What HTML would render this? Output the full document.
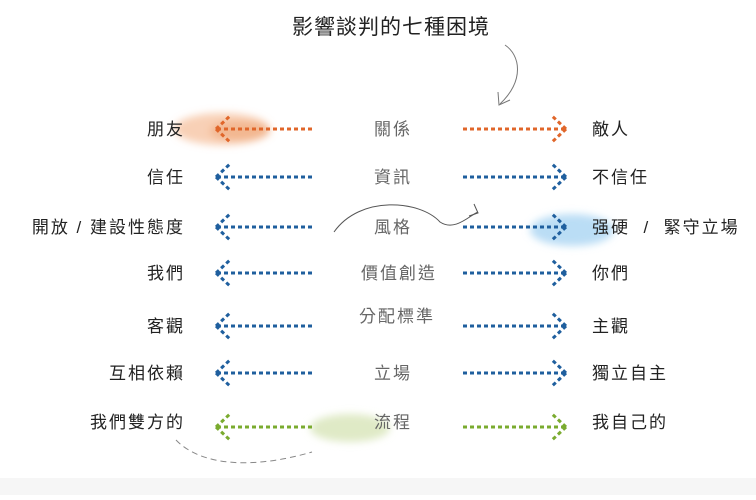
<!DOCTYPE html>
<html><head><meta charset="utf-8"><style>
html,body{margin:0;padding:0;background:#fff;}
svg text{font-family:"Liberation Sans","Noto Sans CJK TC",sans-serif;}
</style></head><body>
<svg width="756" height="495" viewBox="0 0 756 495" xmlns="http://www.w3.org/2000/svg">
<defs>
<filter id="b"><feGaussianBlur stdDeviation="4"/></filter>
</defs>
<rect x="0" y="478" width="756" height="17" fill="#f6f6f6"/>
<g filter="url(#b)">
<ellipse cx="222" cy="129" rx="48" ry="16" fill="#f2a97a" opacity="0.55"/>
<ellipse cx="240" cy="131" rx="30" ry="10" fill="#ec9a66" opacity="0.45"/>
<ellipse cx="572" cy="230" rx="42" ry="16" fill="#a9d4f2" opacity="0.8"/>
<ellipse cx="350" cy="428" rx="40" ry="14" fill="#dce8c0" opacity="0.9"/>
</g>
<text x="391" y="34" font-size="21" fill="#222" text-anchor="middle" letter-spacing="1">影響談判的七種困境</text>
<path d="M500 104 C 525 80, 520 55, 505 45" stroke="#777" fill="none" stroke-width="1"/>
<path d="M498 92 L499 105 L510 100" stroke="#777" fill="none" stroke-width="1"/>
<path d="M334 232 C 360 195, 420 200, 440 222 C 455 232, 470 215, 478 212" stroke="#555" fill="none" stroke-width="1"/>
<path d="M474 204 L478 213 L469 216" stroke="#555" fill="none" stroke-width="1"/>
<path d="M176 440 C 200 465, 250 470, 312 452" stroke="#888" fill="none" stroke-width="1" stroke-dasharray="6,4"/>
<g font-size="17" fill="#222" letter-spacing="2">
<text x="185" y="135" text-anchor="end">朋友</text>
<text x="185" y="183" text-anchor="end">信任</text>
<text x="185" y="233" text-anchor="end">開放 / 建設性態度</text>
<text x="185" y="279" text-anchor="end">我們</text>
<text x="185" y="332" text-anchor="end">客觀</text>
<text x="185" y="379" text-anchor="end">互相依賴</text>
<text x="185" y="428" text-anchor="end">我們雙方的</text>
<text x="592" y="135">敵人</text>
<text x="592" y="183">不信任</text>
<text x="592" y="233" xml:space="preserve">强硬  /  緊守立場</text>
<text x="592" y="279">你們</text>
<text x="592" y="332">主觀</text>
<text x="592" y="379">獨立自主</text>
<text x="592" y="428">我自己的</text>
</g>
<g font-size="17" fill="#666" text-anchor="middle" letter-spacing="2">
<text x="393" y="135">關係</text>
<text x="393" y="183">資訊</text>
<text x="393" y="233">風格</text>
<text x="399" y="279">價值創造</text>
<text x="397" y="322">分配標準</text>
<text x="393" y="379">立場</text>
<text x="393" y="428">流程</text>
</g>
<g stroke-width="3" fill="none" stroke-dasharray="4,3">
<g stroke="#e0662a">
<path d="M312 129 L216 129 M216 129 L231 115 M216 129 L231 143"/>
<path d="M463 129 L566 129 M566 129 L551 115 M566 129 L551 143"/>
</g>
<g stroke="#1f5f9e">
<path d="M312 177 L216 177 M216 177 L231 163 M216 177 L231 191"/>
<path d="M463 177 L566 177 M566 177 L551 163 M566 177 L551 191"/>
<path d="M312 227 L216 227 M216 227 L231 213 M216 227 L231 241"/>
<path d="M463 227 L566 227 M566 227 L551 213 M566 227 L551 241"/>
<path d="M312 273 L216 273 M216 273 L231 259 M216 273 L231 287"/>
<path d="M463 273 L566 273 M566 273 L551 259 M566 273 L551 287"/>
<path d="M312 326 L216 326 M216 326 L231 312 M216 326 L231 340"/>
<path d="M463 326 L566 326 M566 326 L551 312 M566 326 L551 340"/>
<path d="M312 373 L216 373 M216 373 L231 359 M216 373 L231 387"/>
<path d="M463 373 L566 373 M566 373 L551 359 M566 373 L551 387"/>
</g>
<g stroke="#7aab2f">
<path d="M312 427 L216 427 M216 427 L231 413 M216 427 L231 441"/>
<path d="M463 427 L566 427 M566 427 L551 413 M566 427 L551 441"/>
</g>
</g>
</svg>
</body></html>
